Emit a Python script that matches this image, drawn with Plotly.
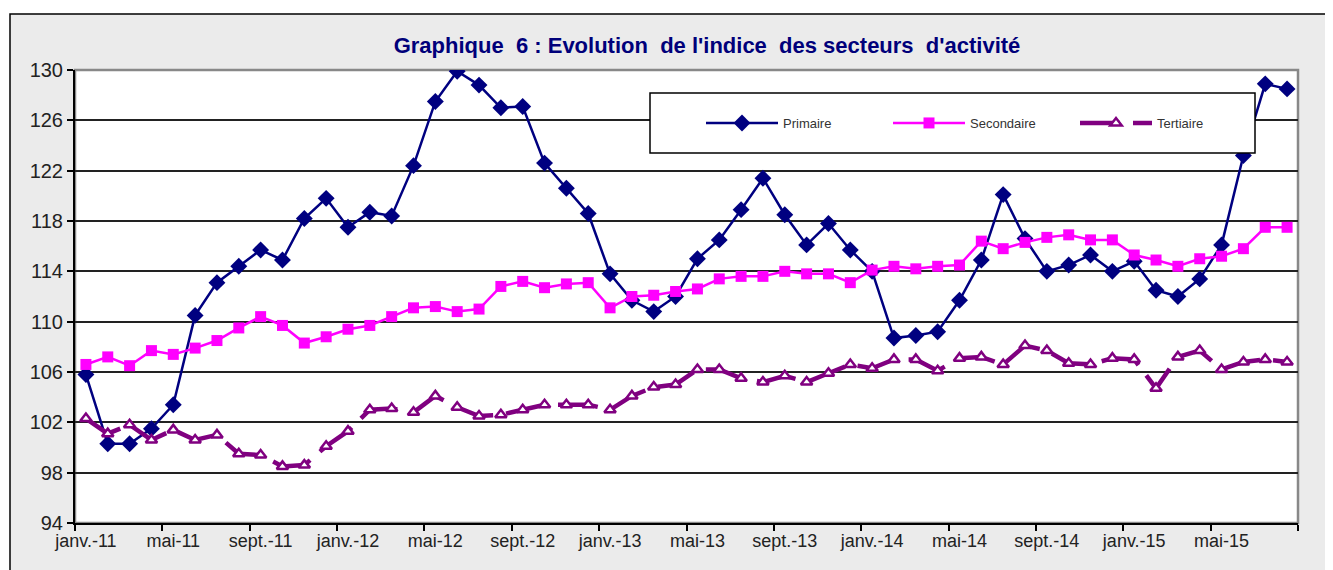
import plotly.graph_objects as go

# months Jan 2011 .. Aug 2015
months = ['janv.-11', 'févr.-11', 'mars-11', 'avr.-11', 'mai-11', 'juin-11', 'juil.-11', 'août-11',
          'sept.-11', 'oct.-11', 'nov.-11', 'déc.-11',
          'janv.-12', 'févr.-12', 'mars-12', 'avr.-12', 'mai-12', 'juin-12', 'juil.-12', 'août-12',
          'sept.-12', 'oct.-12', 'nov.-12', 'déc.-12',
          'janv.-13', 'févr.-13', 'mars-13', 'avr.-13', 'mai-13', 'juin-13', 'juil.-13', 'août-13',
          'sept.-13', 'oct.-13', 'nov.-13', 'déc.-13',
          'janv.-14', 'févr.-14', 'mars-14', 'avr.-14', 'mai-14', 'juin-14', 'juil.-14', 'août-14',
          'sept.-14', 'oct.-14', 'nov.-14', 'déc.-14',
          'janv.-15', 'févr.-15', 'mars-15', 'avr.-15', 'mai-15', 'juin-15', 'juil.-15', 'août-15']

primaire = [105.8, 100.3, 100.3, 101.5, 103.4, 110.5, 113.1, 114.4, 115.7, 114.9, 118.2, 119.8,
            117.5, 118.7, 118.4, 122.4, 127.5, 129.9, 128.8, 127.0, 127.1, 122.6, 120.6, 118.6,
            113.8, 111.7, 110.8, 112.0, 115.0, 116.5, 118.9, 121.4, 118.5, 116.1, 117.8, 115.7,
            114.0, 108.7, 108.9, 109.2, 111.7, 114.9, 120.1, 116.6, 114.0, 114.5, 115.3, 114.0,
            114.8, 112.5, 112.0, 113.4, 116.1, 123.2, 128.9, 128.5]

secondaire = [106.6, 107.2, 106.5, 107.7, 107.4, 107.9, 108.5, 109.5, 110.4, 109.7, 108.3, 108.8,
              109.4, 109.7, 110.4, 111.1, 111.2, 110.8, 111.0, 112.8, 113.2, 112.7, 113.0, 113.1,
              111.1, 112.0, 112.1, 112.4, 112.6, 113.4, 113.6, 113.6, 114.0, 113.8, 113.8, 113.1,
              114.1, 114.4, 114.2, 114.4, 114.5, 116.4, 115.8, 116.3, 116.7, 116.9, 116.5, 116.5,
              115.3, 114.9, 114.4, 115.0, 115.2, 115.8, 117.5, 117.5]

tertiaire = [102.3, 101.1, 101.8, 100.6, 101.4, 100.6, 101.0, 99.5, 99.4, 98.5, 98.6, 100.1,
             101.3, 103.0, 103.1, 102.8, 104.1, 103.2, 102.5, 102.6, 103.0, 103.4, 103.4, 103.4,
             103.0, 104.1, 104.8, 105.0, 106.2, 106.2, 105.5, 105.2, 105.7, 105.2, 105.9, 106.6,
             106.3, 107.0, 107.0, 106.1, 107.1, 107.2, 106.6, 108.1, 107.7, 106.7, 106.6, 107.1,
             107.0, 104.7, 107.2, 107.7, 106.2, 106.8, 107.0, 106.8]

tick_labels = ['janv.-11', 'mai-11', 'sept.-11', 'janv.-12', 'mai-12', 'sept.-12', 'janv.-13',
               'mai-13', 'sept.-13', 'janv.-14', 'mai-14', 'sept.-14', 'janv.-15', 'mai-15']

idx = list(range(len(months)))
tick_idx = [months.index(t) for t in tick_labels]

narrow = 'Liberation Sans Narrow, Arial Narrow, Liberation Sans, Arial'

fig = go.Figure()
fig.add_trace(go.Scatter(x=idx, y=primaire, name='Primaire', mode='lines+markers',
                         text=months, hovertemplate='%{text}: %{y}<extra>Primaire</extra>',
                         line=dict(color='#000080', width=2.5),
                         marker=dict(symbol='diamond', size=13, color='#000080')))
fig.add_trace(go.Scatter(x=idx, y=secondaire, name='Secondaire', mode='lines+markers',
                         text=months, hovertemplate='%{text}: %{y}<extra>Secondaire</extra>',
                         line=dict(color='#ff00ff', width=2.5),
                         marker=dict(symbol='square', size=11, color='#ff00ff')))
fig.add_trace(go.Scatter(x=idx, y=tertiaire, name='Tertiaire', mode='lines+markers',
                         text=months, hovertemplate='%{text}: %{y}<extra>Tertiaire</extra>',
                         line=dict(color='#800080', width=4.5, dash='40px,13px'),
                         marker=dict(symbol='triangle-up', size=10, color='white',
                                     line=dict(color='#800080', width=2.5))))

# page body adds an 8px offset; positions below are screen pixels of the reference
OFF = 8
W, H = 1333, 570
L, T = 75 - OFF, 70 - OFF
R, B = W - (1298 - OFF), H - (523 - OFF)
pw, ph = W - L - R, H - T - B

def px(x):
    return (x - OFF - L) / pw

def py(y):
    return (H - B - (y - OFF)) / ph

fig.update_layout(
    width=W, height=H,
    margin=dict(l=L, r=R, t=T, b=B, autoexpand=False),
    paper_bgcolor='white',
    plot_bgcolor='rgba(0,0,0,0)',
    title=dict(text="Graphique \u00a06 : Evolution \u00a0de l'indice \u00a0des secteurs \u00a0d'activité",
               x=(707 - OFF) / W, xanchor='center', y=1 - (45 - OFF) / H, yanchor='middle',
               yref='container',
               font=dict(family=narrow, size=22, color='#00007a', weight='bold')),
    showlegend=True,
    legend=dict(orientation='h', x=px(701), y=py(123), xanchor='left', yanchor='middle',
                bgcolor='rgba(0,0,0,0)', itemwidth=72, entrywidth=100,
                font=dict(family=narrow, size=13, color='#333333')),
    hovermode='closest',
    shapes=[
        # grey frame around the chart
        dict(type='rect', xref='paper', yref='paper', layer='below',
             x0=px(10), x1=px(1360), y0=py(600), y1=py(14),
             fillcolor='#ebebeb', line=dict(color='black', width=1.5)),
        # plot area
        dict(type='rect', xref='paper', yref='paper', layer='below',
             x0=0, x1=1, y0=0, y1=1, fillcolor='white', line=dict(color='#888888', width=2.5)),
        # legend box
        dict(type='rect', xref='paper', yref='paper', layer='above',
             x0=px(650), x1=px(1255), y0=py(153), y1=py(93),
             fillcolor='white', line=dict(color='black', width=1.5)),
    ],
)

fig.update_xaxes(range=[-0.5, len(months) - 0.5], tickmode='array', tickvals=tick_idx,
                 ticktext=tick_labels, ticks='', showgrid=False, zeroline=False,
                 showline=True, linecolor='black', linewidth=2,
                 tickfont=dict(family=narrow, size=18, color='#222222'),
                 minor=dict(tickmode='linear', tick0=-0.5, dtick=4, ticks='outside', ticklen=6,
                            tickcolor='black', tickwidth=2, showgrid=False))
fig.update_yaxes(range=[94, 130], tickmode='linear', tick0=94, dtick=4,
                 showgrid=True, gridcolor='#222222', gridwidth=1.5, zeroline=False,
                 showline=True, linecolor='black', linewidth=2,
                 ticks='outside', ticklen=6, tickcolor='black', tickwidth=2,
                 tickfont=dict(family=narrow, size=20, color='#222222'))

fig.write_html("out.html")
